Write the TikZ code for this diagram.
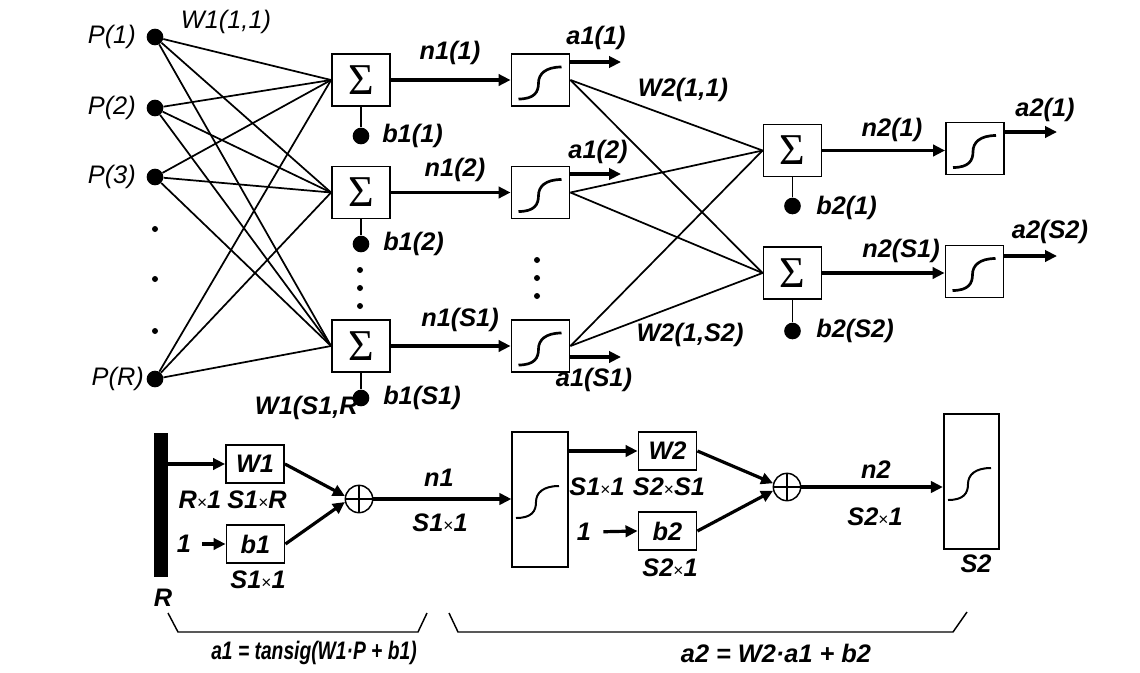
\documentclass[tikz,border=0pt]{standalone}
\usepackage{fontspec}
\setmainfont{Liberation Sans}
\newfontfamily\sigfont{Liberation Serif}
\newfontfamily\narrowfont[FakeStretch=0.76]{Liberation Sans}
\usetikzlibrary{arrows.meta,calc}
\newcommand\labfont{\fontsize{19}{21}\selectfont}
\newcommand\timesx{{\mdseries\upshape\fontsize{13}{13}\selectfont ×}}
\tikzset{
  sigm/.pic={\draw[line width=\pgfkeysvalueof{/tikz/sigw}] (-22,16) .. controls (-6,16) and (-2,9) .. (-2,0) .. controls (-2,-9) and (5,-16) .. (21,-16);},
  sigw/.initial=2pt
}
\begin{document}
\begin{tikzpicture}[x=0.75pt,y=-0.75pt,
  box/.style={draw,line width=1.4pt,minimum width=43.5pt,minimum height=39pt,inner sep=0pt},
  sum/.style={box,font=\sigfont\fontsize{33}{33}\selectfont},
  sbox/.style={draw,line width=1.4pt,minimum width=43.5pt,minimum height=28pt,inner sep=0pt,font=\labfont\bfseries\itshape},
  bigbox/.style={draw,line width=1.4pt,minimum width=41.5pt,minimum height=101pt,inner sep=0pt},
  dot/.style={circle,fill,inner sep=0pt,minimum size=12.5pt},
  sdot/.style={circle,fill,inner sep=0pt,minimum size=4.5pt},
  wire/.style={line width=1.3pt},
  arr/.style={line width=2.8pt,-{Triangle[length=9pt,width=8.5pt]}},
  arrb/.style={line width=2.4pt,-{Triangle[length=9pt,width=8.5pt]}},
  lab/.style={font=\labfont\bfseries\itshape,inner sep=0pt},
  labn/.style={font=\labfont\itshape,inner sep=0pt},
  flab/.style={font=\labfont\narrowfont\bfseries\itshape,inner sep=0pt},
  oplus/.style={draw,circle,line width=1.1pt,minimum size=20.5pt,inner sep=0pt},
  brk/.style={line width=1.1pt}
]
\useasboundingbox (0,0) rectangle (1140,672);

% ---------- inputs ----------
\node[dot] (p1) at (155,37) {};
\node[dot] (p2) at (155,108) {};
\node[dot] (p3) at (155,177) {};
\node[dot] (pR) at (155,379) {};
\node[sdot] (pd1) at (155,229) {};
\node[sdot] (pd2) at (155,279) {};
\node[sdot] (pd3) at (155,331) {};
\node[labn,anchor=east] (lp1) at (136,37) {P(1)};
\node[labn,anchor=east] (lp2) at (136,108) {P(2)};
\node[labn,anchor=east] (lp3) at (136,177) {P(3)};
\node[labn,anchor=east] (lpR) at (144,379) {P(R)};
\node[labn] (lw11) at (226,22) {W1(1,1)};

% ---------- layer 1 ----------
\node[sum] (s1) at (361,80) {Σ};
\node[sum] (s2) at (361,192.5) {Σ};
\node[sum] (s3) at (361,346) {Σ};
\foreach \p in {p1,p2,p3,pR}{
  \foreach \s in {s1,s2,s3}{
    \draw[wire] (\p) -- (\s.west);
  }
}
\node[dot] (b11) at (361,136) {};
\node[dot] (b12) at (361,244) {};
\draw[wire] (s1.south) -- (b11);
\draw[wire] (s2.south) -- (b12);
\node[sdot] (sd1) at (360,270) {};
\node[sdot] (sd2) at (360,288) {};
\node[sdot] (sd3) at (360,306) {};
\node[lab,anchor=west] (lb11) at (382,136) {b1(1)};
\node[lab,anchor=west] (lb12) at (383,244) {b1(2)};
\node[lab,anchor=west] (lb1S) at (383,398) {b1(S1)};
\node[lab,anchor=east] (lw1S) at (358,408) {W1(S1,R};
\node[dot] (b1S) at (361,398) {};
\draw[wire] (s3.south) -- (b1S);

\node[box] (t1) at (540.5,80) {};
\node[box] (t2) at (540.5,192.5) {};
\node[box] (t3) at (540.5,346) {};
\pic at (540.5,83) {sigm};
\pic at (540.5,195.5) {sigm};
\pic at (540.5,349) {sigm};
\node[sdot] (td1) at (537,260) {};
\node[sdot] (td2) at (537,278) {};
\node[sdot] (td3) at (537,296) {};
\draw[arr] (s1.east) -- (t1.west);
\draw[arr] (s2.east) -- (t2.west);
\draw[arr] (s3.east) -- (t3.west);
\node[lab] (ln11) at (450,53) {n1(1)};
\node[lab] (ln12) at (455,170) {n1(2)};
\node[lab] (ln1S) at (460,320) {n1(S1)};

\coordinate (a1e1) at (621,62);
\coordinate (a1e2) at (621,174);
\coordinate (a1e3) at (621,357);
\draw[arr] (a1e1 -| t1.east) -- (a1e1);
\draw[arr] (a1e2 -| t2.east) -- (a1e2);
\draw[arr] (a1e3 -| t3.east) -- (a1e3);
\node[lab] (la11) at (596,38) {a1(1)};
\node[lab] (la12) at (598,152) {a1(2)};
\node[lab] (la1S) at (594,380) {a1(S1)};

% ---------- layer 2 ----------
\node[sum] (u1) at (792.5,150.5) {Σ};
\node[sum] (u2) at (792.5,273) {Σ};
\foreach \t in {t1,t2,t3}{
  \foreach \u in {u1,u2}{
    \draw[wire] (\t.east) -- (\u.west);
  }
}
\node[lab] (lw21) at (683,90) {W2(1,1)};
\node[lab] (lw2S) at (690,335) {W2(1,S2)};
\node[dot] (b21) at (792.5,206) {};
\node[dot] (b2S) at (792.5,331) {};
\draw[wire] (u1.south) -- (b21);
\draw[wire] (u2.south) -- (b2S);
\node[lab,anchor=west] (lb21) at (816,208) {b2(1)};
\node[lab,anchor=west] (lb2S) at (816,331) {b2(S2)};

\node[box] (v1) at (975,148.5) {};
\node[box] (v2) at (974.5,271.5) {};
\pic at (975,151.5) {sigm};
\pic at (974.5,274.5) {sigm};
\draw[arr] (u1.east) -- (u1.east -| v1.west);
\draw[arr] (u2.east) -- (u2.east -| v2.west);
\node[lab] (ln21) at (892,130) {n2(1)};
\node[lab] (ln2S) at (901,251) {n2(S1)};
\coordinate (a2e1) at (1057,132);
\coordinate (a2e2) at (1057,256);
\draw[arr] (a2e1 -| v1.east) -- (a2e1);
\draw[arr] (a2e2 -| v2.east) -- (a2e2);
\node[lab] (la21) at (1045,110) {a2(1)};
\node[lab] (la2S) at (1050,232) {a2(S2)};

% ---------- bottom ----------
\node[fill,minimum width=10.5pt,minimum height=108pt,inner sep=0pt] (bar) at (161,505) {};
\node[lab] (lR) at (163,598) {R};
\node[sbox] (W1) at (255,464) {W1};
\draw[arrb] (bar.east |- W1.west) -- (W1.west);
\node[lab] (lRx1) at (200,500) {R\timesx1};
\node[lab] (lS1xR) at (257,500) {S1\timesx R};
\node[sbox] (B1b) at (255.5,544) {b1};
\node[lab] (one1) at (184,544) {1};
\draw[arrb,shorten <=8pt] (one1.east) -- (B1b.west);
\node[lab] (lS1x1a) at (258,580) {S1\timesx1};
\node[oplus] (c1) at (359,499) {};
\draw[line width=1.1pt] (c1.north) -- (c1.south) (c1.west) -- (c1.east);
\draw[arrb] (W1.east) -- (c1.168);
\draw[arrb] (B1b.east) -- (c1.192);
\node[bigbox] (BB1) at (540,499.5) {};
\draw[arrb] (c1.east) -- (c1.east -| BB1.west);
\node[lab] (ln1) at (439,478) {n1};
\node[lab] (lS1x1b) at (440,523) {S1\timesx1};
\pic[sigw=1.5pt] at (538,502) {sigm};

\node[sbox] (W2) at (667.5,451) {W2};
\draw[arrb] (W2.west -| BB1.east) -- (W2.west);
\node[lab] (lS1x1c) at (597,487) {S1\timesx1};
\node[lab] (lS2xS1) at (669,487) {S2\timesx S1};
\node[sbox] (B2b) at (667.5,531) {b2};
\node[lab] (one2) at (584,532) {1};
\draw[arrb,shorten <=9pt] (one2.east) -- (B2b.west);
\node[lab] (lS2x1a) at (670,568) {S2\timesx1};
\node[oplus] (c2) at (787,487) {};
\draw[line width=1.1pt] (c2.north) -- (c2.south) (c2.west) -- (c2.east);
\draw[arrb] (W2.east) -- (c2.165);
\draw[arrb] (B2b.east) -- (c2.195);
\node[bigbox] (BB2) at (971.5,481.5) {};
\draw[arrb] (c2.east) -- (c2.east -| BB2.west);
\node[lab] (ln2) at (876,470) {n2};
\node[lab] (lS2x1b) at (875,517) {S2\timesx1};
\node[lab] (lS2) at (976,564) {S2};
\pic[sigw=1.5pt] at (970,484) {sigm};

% brackets
\draw[brk] (168,613) -- (178,632) -- (418,632) -- (427,613);
\draw[brk] (449,613) -- (458,632) -- (953,632) -- (967,612);
\node[flab] (f1) at (314,653) {a1 = tansig(W1·P + b1)};
\node[lab] (f2) at (776,653) {a2 = W2·a1 + b2};
\end{tikzpicture}
\end{document}
